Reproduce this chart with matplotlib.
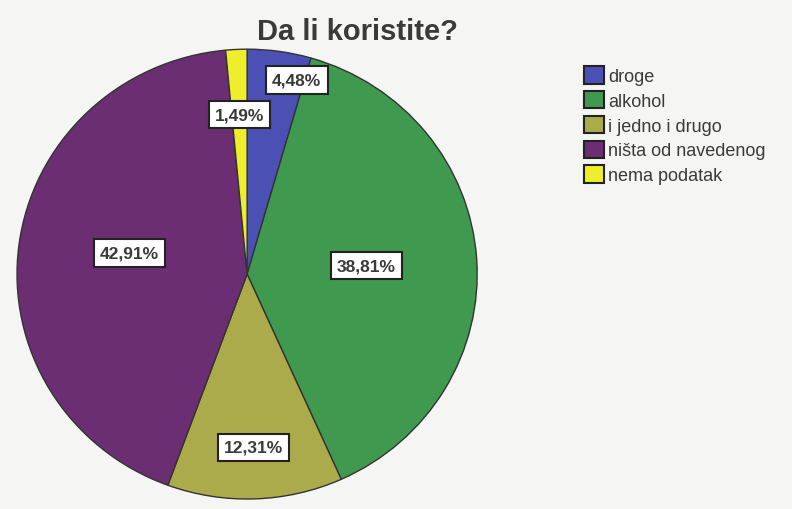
import matplotlib
matplotlib.use('Agg')
import matplotlib.pyplot as plt
import numpy as np

plt.rcParams['font.family'] = ['Liberation Sans', 'DejaVu Sans']

categories = ['droge', 'alkohol', 'i jedno i drugo', 'ništa od navedenog', 'nema podatak']
shares = [4.48, 38.81, 12.31, 42.91, 1.49]
labels = ['4,48%', '38,81%', '12,31%', '42,91%', '1,49%']
colors = ['#4b50b4', '#3f9a50', '#acab4c', '#6b2e72', '#eeee2c']

# where each percentage box sits (fraction of radius, angle nudge in degrees)
label_r = [0.89, 0.52, 0.77, 0.52, 0.71]
label_nudge = [-6, 0, 0, -3, 0]

fig = plt.figure(figsize=(7.92, 5.10), dpi=100)
fig.patch.set_facecolor('#f5f5f3')
ax = fig.add_axes([0.0215, 0.0196, 0.581, 0.882])
ax.set_facecolor('none')

wedges, _ = ax.pie(shares, colors=colors, startangle=90, counterclock=False,
                   wedgeprops=dict(edgecolor='#333333', linewidth=1.0))
ax.set_aspect('auto')
ax.set_xlim(-1, 1)
ax.set_ylim(-1, 1)

for w, lab, r, nd in zip(wedges, labels, label_r, label_nudge):
    ang = np.deg2rad((w.theta1 + w.theta2) / 2 + nd)
    ax.text(r * np.cos(ang), r * np.sin(ang), lab, ha='center', va='center',
            fontsize=12.5, fontweight='bold', color='#3a3a3a',
            bbox=dict(boxstyle='square,pad=0.35', facecolor='white',
                      edgecolor='#222222', linewidth=1.5))

fig.text(0.451, 0.938, 'Da li koristite?', ha='center', va='center',
         fontsize=21, fontweight='bold', color='#3a3a3a')

leg = fig.legend(wedges, categories, loc='upper left', bbox_to_anchor=(0.738, 0.868),
                 frameon=False, fontsize=13, handlelength=1.1, handleheight=1.1,
                 handletextpad=0.2, labelspacing=0.33, borderpad=0, borderaxespad=0)
for h in leg.legend_handles:
    h.set_edgecolor('#222222')
    h.set_linewidth(1.5)
for t in leg.get_texts():
    t.set_color('#3a3a3a')

fig.savefig('out.png', dpi=100, facecolor=fig.get_facecolor())
